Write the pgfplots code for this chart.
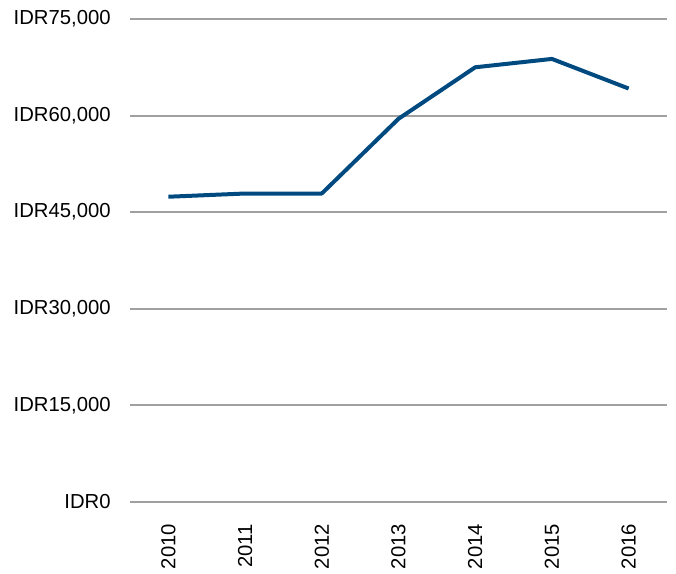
\documentclass[border=0pt]{standalone}
\usepackage{pgfplots}
\pgfplotsset{compat=1.18}
\usepackage{fontspec}
\setmainfont{Liberation Sans}
\definecolor{lineblue}{RGB}{0,74,128}
\definecolor{gridgray}{RGB}{160,160,160}
\begin{document}
\begin{tikzpicture}
\begin{axis}[
  scale only axis,
  width=402.75pt, height=362.25pt,
  xmin=-0.5, xmax=6.5,
  ymin=0, ymax=75000,
  scaled y ticks=false,
  axis line style={draw=none},
  major tick length=0pt,
  xtick={0,1,2,3,4,5,6},
  xticklabels={2010,2011,2012,2013,2014,2015,2016},
  ytick={0,15000,30000,45000,60000,75000},
  yticklabels={IDR0,{IDR15,000},{IDR30,000},{IDR45,000},{IDR60,000},{IDR75,000}},
  ymajorgrids,
  grid style={gridgray, line width=1.5pt},
  tick label style={font=\fontsize{15.2}{18}\selectfont},
  x tick label style={rotate=90, anchor=east},
  xticklabel shift=13pt,
  yticklabel shift=11pt,
  clip=false,
]
\addplot[lineblue, line width=3pt, line join=round] coordinates {
  (0,47400) (1,47900) (2,47900) (3,59500) (4,67500) (5,68800) (6,64200)
};
\end{axis}
\path ([xshift=-97.5pt,yshift=-51pt]current axis.south west) rectangle ([xshift=6.75pt,yshift=14.25pt]current axis.north east);
\end{tikzpicture}
\end{document}
